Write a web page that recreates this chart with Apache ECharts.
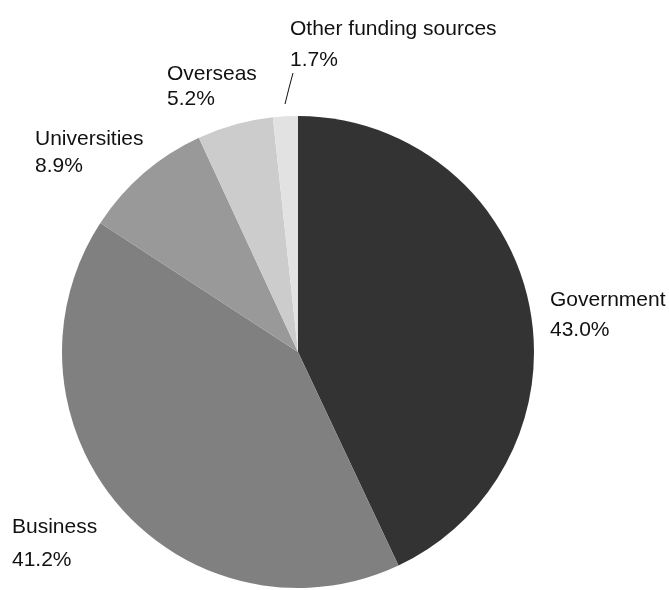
<!DOCTYPE html>
<html>
<head>
<meta charset="utf-8">
<script src="https://cdn.jsdelivr.net/npm/echarts@6/dist/echarts.min.js"></script>
<style>
  html, body { margin: 0; padding: 0; background: #ffffff; }
  #chart { width: 669px; height: 590px; }
</style>
</head>
<body>
<div id="chart"></div>
<script>
// Funding sources and their share of the total (%)
const categories = ['Government', 'Business', 'Universities', 'Overseas', 'Other funding sources'];
const shares = [43.0, 41.2, 8.9, 5.2, 1.7];
const sliceColors = ['#333333', '#808080', '#999999', '#cccccc', '#e2e2e2'];

// Where each label block sits (left edge, vertical centre) and its line spacing
const labelSpots = [
  { x: 550, y: 315, lh: 30 },
  { x: 12,  y: 544, lh: 33 },
  { x: 35,  y: 153, lh: 27 },
  { x: 167, y: 87,  lh: 25 },
  { x: 290, y: 45,  lh: 31 }
];
// Leader line for the thin slice at the top
const leaderLine = [[285, 104], [289, 88], [293, 73]];

const chart = echarts.init(document.getElementById('chart'), null, { renderer: 'canvas' });

chart.setOption({
  animation: false,
  backgroundColor: '#ffffff',
  series: [{
    type: 'pie',
    center: [298, 352],
    radius: [0, 236],
    startAngle: 90,
    clockwise: true,
    avoidLabelOverlap: false,
    itemStyle: { borderWidth: 0 },
    emphasis: { disabled: true },
    label: {
      show: true,
      position: 'outside',
      color: '#111111',
      fontFamily: '"Liberation Sans", Arial, sans-serif',
      fontSize: 21,
      align: 'left',
      formatter: p => p.name + '\n' + p.value.toFixed(1) + '%'
    },
    labelLine: { show: false },
    labelLayout: p => {
      const s = labelSpots[p.dataIndex];
      const out = { x: s.x, y: s.y, align: 'left', verticalAlign: 'middle' };
      if (p.dataIndex === categories.length - 1) out.labelLinePoints = leaderLine;
      return out;
    },
    data: categories.map((name, i) => ({
      name: name,
      value: shares[i],
      itemStyle: { color: sliceColors[i] },
      label: { lineHeight: labelSpots[i].lh },
      labelLine: i === categories.length - 1
        ? { show: true, lineStyle: { color: '#111111', width: 1 } }
        : { show: false }
    }))
  }]
});
</script>
</body>
</html>
